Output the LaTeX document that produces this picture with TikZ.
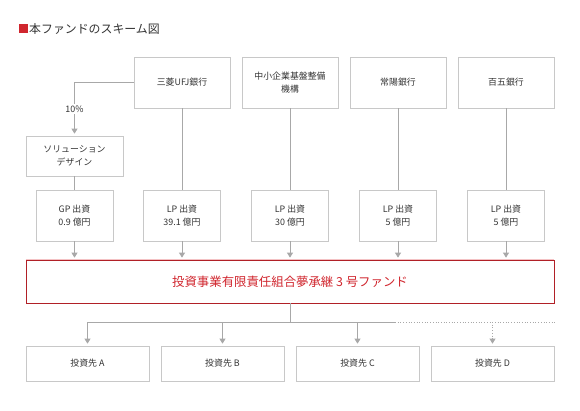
\documentclass[tikz,border=0pt]{standalone}
\usepackage{fontspec}
\setmainfont{Noto Sans CJK JP}
\usetikzlibrary{arrows.meta}
\definecolor{boxgray}{HTML}{C8C8C8}
\definecolor{linegray}{HTML}{A8A8A8}
\definecolor{txtgray}{HTML}{333333}
\definecolor{fundred}{HTML}{D0262E}
\definecolor{fundpink}{HTML}{F4C2C4}
\begin{document}
\begin{tikzpicture}[x=1pt, y=-1pt,
    box/.style={draw=boxgray, line width=0.7pt, inner sep=0pt, align=center,
        text=txtgray, font=\fontsize{8.9}{12.4}\selectfont},
    bank/.style={box, minimum width=96pt, minimum height=51pt},
    share/.style={box, minimum width=77pt, minimum height=51pt},
    target/.style={box, minimum width=123pt, minimum height=35pt},
    link/.style={draw=linegray, line width=0.7pt},
    flow/.style={link, -{Triangle[width=6pt, length=5pt]}, shorten >=2pt}]

    % page size of the reference
    \useasboundingbox (0,0) rectangle (580,410);

    % 1. Title
    \fill[fundred] (19,24) rectangle (28,33);
    \node[anchor=west, inner sep=0pt, text=txtgray, font=\fontsize{11.9}{14}\selectfont]
        (title) at (29,29) {本ファンドのスキーム図};

    % 2. Investors on top
    \node[bank] (mufg)  at (182,82.5) {三菱UFJ銀行};
    \node[bank] (smrj)  at (290,82.5) {中小企業基盤整備\\機構};
    \node[bank] (joyo)  at (398,82.5) {常陽銀行};
    \node[bank] (hyaku) at (506,82.5) {百五銀行};

    % GP company, 10% held by MUFG
    \node[box, minimum width=97pt, minimum height=40pt] (sd) at (74.5,156) {ソリューション\\デザイン};

    % 3. Contributions
    \node[share] (gp)  at (74.5,215.5) {GP 出資\\0.9 億円};
    \node[share] (lp1) at (182,215.5)  {LP 出資\\39.1 億円};
    \node[share] (lp2) at (290,215.5)  {LP 出資\\30 億円};
    \node[share] (lp3) at (398,215.5)  {LP 出資\\5 億円};
    \node[share] (lp4) at (506,215.5)  {LP 出資\\5 億円};

    % 4. The fund
    \node[draw=fundred!85!black, line width=0.7pt, minimum width=528pt, minimum height=43pt,
        text=fundred, font=\fontsize{12.4}{14}\selectfont]
        (fund) at (290,281.5) {投資事業有限責任組合夢承継 3 号ファンド};
    \draw[fundpink, line width=0.9pt] (fund.north west) -- (fund.north east);

    % 5. Portfolio companies
    \node[target] (invA) at (87.5,363.5)  {投資先 A};
    \node[target] (invB) at (222.5,363.5) {投資先 B};
    \node[target] (invC) at (357.5,363.5) {投資先 C};
    \node[target] (invD) at (492.5,363.5) {投資先 D};

    % 6. Connectors
    \draw[flow] (mufg.west) -| node[pos=0.75, fill=white, inner sep=1.5pt, text=txtgray,
        font=\fontsize{8.9}{10}\selectfont] {10\%} (sd.north);
    \draw[link] (sd.south) -- (gp.north);
    \foreach \b/\s in {mufg/lp1, smrj/lp2, joyo/lp3, hyaku/lp4}
        \draw[link] (\b.south) -- (\s.north);
    \foreach \s in {gp, lp1, lp2, lp3, lp4}
        \draw[flow] (\s.south) -- (\s.south |- fund.north);

    \coordinate (split) at (290,322);
    \coordinate (dotStart) at (395,322);
    \draw[link] (fund.south) -- (split);
    \draw[link] (invA.north |- split) -- (dotStart);
    \draw[link, dotted] (dotStart) -- (fund.east |- split);
    \foreach \t in {invA, invB, invC}
        \draw[flow] (\t.north |- split) -- (\t.north);
    \draw[flow, dotted] (invD.north |- split) -- (invD.north);

\end{tikzpicture}
\end{document}
